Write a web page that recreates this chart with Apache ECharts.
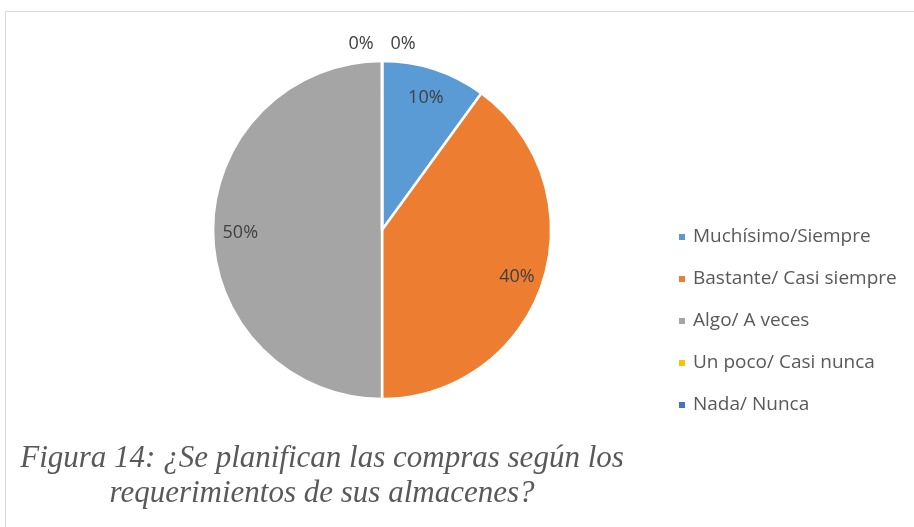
<!DOCTYPE html>
<html>
<head>
<meta charset="utf-8">
<script src="https://cdn.jsdelivr.net/npm/echarts@6/dist/echarts.min.js"></script>
<style>
  html, body { margin: 0; padding: 0; background: #fff; }
  #chart { width: 914px; height: 527px; }
</style>
</head>
<body>
<div id="chart"></div>
<script>
const categories = ["Muchísimo/Siempre", "Bastante/ Casi siempre", "Algo/ A veces", "Un poco/ Casi nunca", "Nada/ Nunca"];
const values = [10, 40, 50, 0, 0];
const colors = ["#5B9BD5", "#ED7D31", "#A5A5A5", "#FFC000", "#4472C4"];
const caption = "Figura 14: ¿Se planifican las compras según los\nrequerimientos de sus almacenes?";

const chart = echarts.init(document.getElementById("chart"), null, { renderer: "canvas" });

// pie geometry (fractions of the canvas)
const centerX = 0.418;
const centerY = 0.4364;
const radiusPx = 169;

const option = {
  animation: false,
  color: colors,
  graphic: [
    {
      type: "rect",
      shape: { x: 5.5, y: 11.5, width: 1000, height: 600 },
      style: { fill: "none", stroke: "#d9d9d9", lineWidth: 1 },
      silent: true,
    },
  ],
  title: {
    text: caption,
    left: 317,
    top: 436,
    textAlign: "center",
    textStyle: {
      fontFamily: "Liberation Serif",
      fontStyle: "italic",
      fontWeight: "normal",
      fontSize: 31,
      lineHeight: 35,
      color: "#595959",
    },
  },
  legend: {
    orient: "vertical",
    left: 672,
    top: 221,
    itemWidth: 8,
    itemHeight: 8,
    itemGap: 20,
    icon: "rect",
    textStyle: {
      fontFamily: "Open Sans",
      fontSize: 19,
      lineHeight: 22,
      color: "#595959",
      padding: [0, 0, 0, 2],
    },
    data: categories,
  },
  series: [
    {
      type: "pie",
      center: [(centerX * 100) + "%", (centerY * 100) + "%"],
      radius: radiusPx,
      startAngle: 90,
      clockwise: true,
      avoidLabelOverlap: false,
      itemStyle: { borderColor: "#fff", borderWidth: 2.5 },
      label: {
        show: true,
        position: "inside",
        fontFamily: "Open Sans",
        fontSize: 18,
        color: "#404040",
        formatter: p => Math.round(p.percent) + "%",
      },
      labelLine: { show: false },
      labelLayout: (params) => {
        const cx = chart.getWidth() * centerX;
        const cy = chart.getHeight() * centerY;
        const val = values[params.dataIndex];
        if (val === 0) {
          // zero slices sit at the top, labels side by side above the pie
          const zeroIdx = values.slice(0, params.dataIndex).filter(v => v === 0).length;
          return {
            x: cx + (zeroIdx === 0 ? -21 : 21),
            y: cy - radiusPx - 17,
            align: "center",
            verticalAlign: "middle",
          };
        }
        const lx = params.labelRect.x + params.labelRect.width / 2;
        const ly = params.labelRect.y + params.labelRect.height / 2;
        return {
          dx: (lx - cx) * 0.62,
          dy: (ly - cy) * 0.62 + 3,
        };
      },
      data: categories.map((name, i) => ({ name, value: values[i] })),
    },
  ],
};

chart.setOption(option);
</script>
</body>
</html>
